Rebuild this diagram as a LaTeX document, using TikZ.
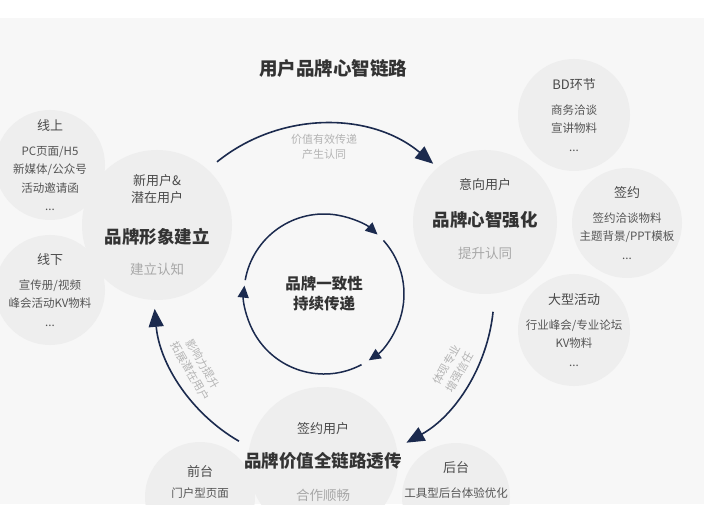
\documentclass[tikz,border=0pt]{standalone}
\usepackage{fontspec}
\setmainfont{Noto Sans CJK SC}
\usepackage{tikz}
\usetikzlibrary{arrows.meta}
\definecolor{PanelGray}{HTML}{F7F7F7}
\definecolor{BubbleGray}{HTML}{EEEEEE}
\definecolor{Navy}{HTML}{1B2A4E}
\definecolor{HeadGray}{HTML}{4A4A4A}
\definecolor{ItemGray}{HTML}{555555}
\definecolor{TitleGray}{HTML}{333333}
\definecolor{SubGray}{HTML}{A8A8A8}
\definecolor{NoteGray}{HTML}{B4B4B4}
\newcommand{\bubhead}[1]{{\fontsize{13}{18.5}\selectfont\textcolor{HeadGray}{#1}}}
\newcommand{\bubtitle}[1]{{\fontsize{17.5}{17}\selectfont\bfseries\textcolor{TitleGray}{#1}}}
\newcommand{\bubsub}[1]{{\fontsize{13.5}{17}\selectfont\textcolor{SubGray}{#1}}}

\begin{document}
\begin{tikzpicture}[
  x=1pt, y=1pt,
  bub/.style={circle, fill=BubbleGray, inner sep=0pt, minimum size=#1},
  txt/.style={align=center, inner sep=0pt, font=\fontsize{11.5}{18.5}\selectfont, text=ItemGray},
  big/.style={align=center, inner sep=0pt, font=\fontsize{13}{17}\selectfont, text=HeadGray},
  note/.style={align=center, inner sep=0pt, font=\fontsize{11}{15}\selectfont, text=NoteGray},
  outarr/.style={-{Triangle[length=18pt,width=15pt]}, line width=1.6pt, draw=Navy},
  inarr/.style={-{Triangle[length=12pt,width=11pt]}, line width=1.5pt, draw=Navy}
]
\useasboundingbox (0,0) rectangle (704,528);
\fill[white] (0,0) rectangle (704,528);
\fill[PanelGray] (0,24) rectangle (704,510);
\coordinate (c) at (324,234);

\begin{scope}
\clip (0,24) rectangle (704,510);
% bubbles
\node[bub=110pt] (online) at (50,363) {};
\node[bub=110pt] (offline) at (50,238) {};
\node[bub=150pt] (build) at (157,303) {};
\node[bub=144pt] (mind) at (485,306) {};
\node[bub=112pt] (bd) at (574,413) {};
\node[bub=110pt] (sign) at (627,305) {};
\node[bub=112pt] (event) at (574,198) {};
\node[bub=110pt] (front) at (200,31) {};
\node[bub=108pt] (back) at (456,31) {};
\node[bub=150pt] (value) at (323,66) {};

% texts
\node[txt] (onlineT) at (online) {\bubhead{线上}\\[6.5pt]PC页面/H5\\新媒体/公众号\\活动邀请函\\...};
\node[txt] (offlineT) at (offline) {\bubhead{线下}\\[6.5pt]宣传册/视频\\峰会活动KV物料\\...};
\node[txt] (bdT) at (bd) {\bubhead{BD环节}\\[6.5pt]商务洽谈\\宣讲物料\\...};
\node[txt] (signT) at (sign) {\bubhead{签约}\\[6.5pt]签约洽谈物料\\主题背景/PPT模板\\...};
\node[txt] (eventT) at (event) {\bubhead{大型活动}\\[6.5pt]行业峰会/专业论坛\\KV物料\\...};
\node[txt] (frontT) at (200,46) {\bubhead{前台}\\[3pt]门户型页面};
\node[txt] (backT) at (456,48) {\bubhead{后台}\\[6pt]工具型后台体验优化};
\node[big] (buildT) at (build) {新用户\&\\潜在用户\\[24pt]\bubtitle{品牌形象建立}\\[14.5pt]\bubsub{建立认知}};
\node[big] (mindT) at ([yshift=3pt]mind.center) {意向用户\\[19.5pt]\bubtitle{品牌心智强化}\\[15pt]\bubsub{提升认同}};
\node[big] (valueT) at (value) {签约用户\\[17.5pt]\bubtitle{品牌价值全链路透传}\\[15.5pt]\bubsub{合作顺畅}};
\end{scope}

\node[font=\fontsize{18.5}{20}\selectfont\bfseries, text=TitleGray] (title) at (333,460) {用户品牌心智链路};

% outer cycle
\draw[outarr] ([shift={(129:170pt)}]c) arc[start angle=129, end angle=50, radius=170pt];
\draw[outarr] ([shift={(-6:170pt)}]c) arc[start angle=-6, end angle=-61, radius=170pt];
\draw[outarr] ([shift={(240:170pt)}]c) arc[start angle=240, end angle=185, radius=170pt];
\node[note] (topnote) at ([shift={(90:147pt)}]c) {价值有效传递\\产生认同};
\node[note, rotate=60] (rightnote) at ([shift={(-30:149pt)}]c) {体现专业\\增强信任};
\node[note, rotate=-60] (leftnote) at ([shift={(210:147pt)}]c) {影响力提升\\拓展潜在用户};

% inner cycle
\draw[inarr] ([shift={(170:80pt)}]c) arc[start angle=170, end angle=48, radius=80pt];
\draw[inarr] ([shift={(42:80pt)}]c) arc[start angle=42, end angle=-56, radius=80pt];
\draw[inarr] ([shift={(-62:80pt)}]c) arc[start angle=-62, end angle=-186, radius=80pt];
\node[font=\fontsize{15.5}{20}\selectfont\bfseries, text=TitleGray, align=center] (core) at (c) {品牌一致性\\持续传递};
\end{tikzpicture}
\end{document}
